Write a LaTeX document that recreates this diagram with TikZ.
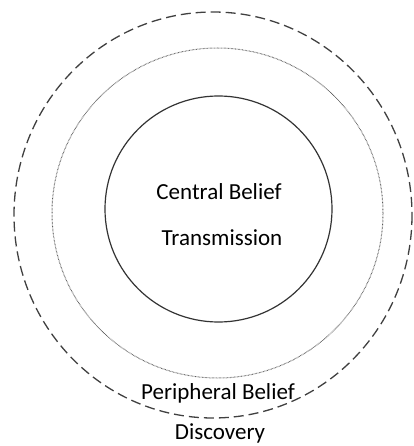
\documentclass[tikz,border=0pt]{standalone}
\usepackage{fontspec}
\setmainfont{Carlito}
\usepackage{tikz}
\usetikzlibrary{positioning}

\begin{document}
\begin{tikzpicture}[x=1pt,y=-1pt,
    label/.style={font=\fontsize{23}{27}\selectfont, text=black, inner sep=0pt}]
            \useasboundingbox (0,0) rectangle (413,446);
            % Outer ring (dashed)
            \draw[black!75, line width=1.3pt, dash pattern=on 10pt off 5pt] (213,215) ellipse (199 and 203);
            % Middle ring (dotted)
            \draw[black!65, line width=1pt, dash pattern=on 0.6pt off 0.8pt] (217.5,213) ellipse (165.5 and 165);
            % Inner ring
            \draw[black!80, line width=1.2pt] (218.5,209) ellipse (113.5 and 113);

            % Labels
            \node[label] (central) at (219,192) {Central Belief};
            \node[label] (trans) at (222,238) {Transmission};
            \node[label] (periph) at (218,393) {Peripheral Belief};
            \node[label] (disc) at (220,433) {Discovery};

        \end{tikzpicture}
\end{document}
